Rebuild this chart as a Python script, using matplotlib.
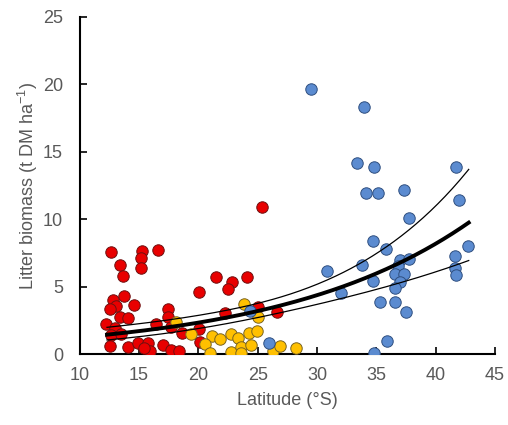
import numpy as np
import matplotlib
matplotlib.use("Agg")
import matplotlib.pyplot as plt

plt.rcParams['font.family'] = ['Liberation Sans', 'DejaVu Sans']
plt.rcParams['mathtext.fontset'] = 'custom'
plt.rcParams['mathtext.rm'] = 'Liberation Sans'
plt.rcParams['mathtext.it'] = 'Liberation Sans'

# red group
red_lat = [12.61, 15.29, 16.60, 15.20, 13.37, 13.65, 15.20, 13.74, 12.81, 14.55,
           13.09, 12.53, 17.45, 13.37, 14.07, 17.40, 12.25, 16.47, 12.95, 17.68,
           12.67, 13.51, 18.63, 12.55, 14.08, 14.92, 15.76, 15.90, 15.42, 17.03,
           17.73, 18.37, 20.04, 21.47, 22.87, 24.14, 22.51, 25.37, 22.23, 25.04,
           26.64, 20.06, 20.18]
red_lb = [7.58, 7.63, 7.73, 7.14, 6.59, 5.80, 6.35, 4.32, 4.00, 3.63,
          3.58, 3.33, 3.33, 2.76, 2.64, 2.77, 2.20, 2.20, 1.90, 2.02,
          1.41, 1.46, 1.53, 0.60, 0.54, 0.79, 0.79, 0.22, 0.42, 0.67,
          0.30, 0.22, 4.57, 5.68, 5.36, 5.68, 4.81, 10.91, 3.06, 3.46,
          3.14, 1.82, 0.92]

# yellow group
yel_lat = [23.83, 25.04, 18.15, 19.40, 21.19, 21.86, 22.79, 23.33, 24.27, 24.97,
           20.58, 20.96, 22.76, 23.56, 24.48, 23.63, 26.30, 26.87, 28.20]
yel_lb = [3.70, 2.77, 2.34, 1.52, 1.33, 1.14, 1.50, 1.16, 1.56, 1.72,
          0.72, 0.10, 0.17, 0.52, 0.67, 0.05, 0.22, 0.60, 0.45]

# blue group
blue_lat = [29.48, 33.95, 33.39, 34.80, 41.77, 34.12, 35.16, 37.33, 41.94, 37.75,
            34.74, 35.86, 42.70, 41.68, 30.89, 33.84, 36.99, 37.75, 36.85, 41.68,
            41.77, 34.74, 36.57, 37.33, 36.99, 36.57, 32.01, 35.30, 36.57, 37.55,
            35.95, 34.82, 25.94, 24.34]
blue_lb = [19.68, 18.35, 14.20, 13.90, 13.90, 11.97, 11.97, 12.15, 11.40, 10.10,
           8.37, 7.80, 8.00, 7.30, 6.17, 6.57, 6.96, 7.06, 6.52, 6.37,
           5.85, 5.43, 5.97, 5.93, 5.36, 4.91, 4.49, 3.83, 3.88, 3.14,
           0.96, 0.10, 0.82, 3.20]

# exponential fit y = a*exp(b*x) and its band (log scale half-width)
fit_a = 0.663
fit_b = 0.0628
band_x0 = 27.0
band_w0 = 0.16
band_s = 0.019
fit_range = (12.3, 42.8)

fig = plt.figure(figsize=(5.08, 4.25), dpi=100)
ax = fig.add_axes([0.157, 0.167, 0.817, 0.793])

ax.scatter(red_lat, red_lb, s=68, c='#E80000', edgecolors='#6E1010', linewidths=0.7, zorder=3)
ax.scatter(yel_lat, yel_lb, s=68, c='#FFC000', edgecolors='#7A6420', linewidths=0.7, zorder=3)
ax.scatter(blue_lat, blue_lb, s=68, c='#5B8BD0', edgecolors='#2F4F80', linewidths=0.7, zorder=3)

xx = np.linspace(fit_range[0], fit_range[1], 200)
yy = fit_a * np.exp(fit_b * xx)
w = np.sqrt(band_w0 ** 2 + (band_s * (xx - band_x0)) ** 2)
ax.plot(xx, yy, color='black', lw=2.8, zorder=4)
ax.plot(xx, yy * np.exp(w), color='black', lw=0.9, zorder=4)
ax.plot(xx, yy * np.exp(-w), color='black', lw=0.9, zorder=4)

ax.set_xlim(10, 45)
ax.set_ylim(0, 25)
ax.set_xticks(range(10, 46, 5))
ax.set_yticks(range(0, 26, 5))
ax.spines['top'].set_visible(False)
ax.spines['right'].set_visible(False)
ax.spines['left'].set_linewidth(1.5)
ax.spines['bottom'].set_linewidth(1.5)
ax.tick_params(direction='in', length=5, width=1.2, labelsize=13, colors='black')
ax.tick_params(axis='y', pad=12, labelcolor='#595959')
ax.tick_params(axis='x', pad=9, labelcolor='#595959')

ax.set_xlabel('Latitude (°S)', fontsize=13, color='#595959', labelpad=6)
ax.set_ylabel('Litter biomass (t DM ha$^{-1}$)', fontsize=13, color='#595959', labelpad=2)

fig.savefig('out.png', dpi=100)
